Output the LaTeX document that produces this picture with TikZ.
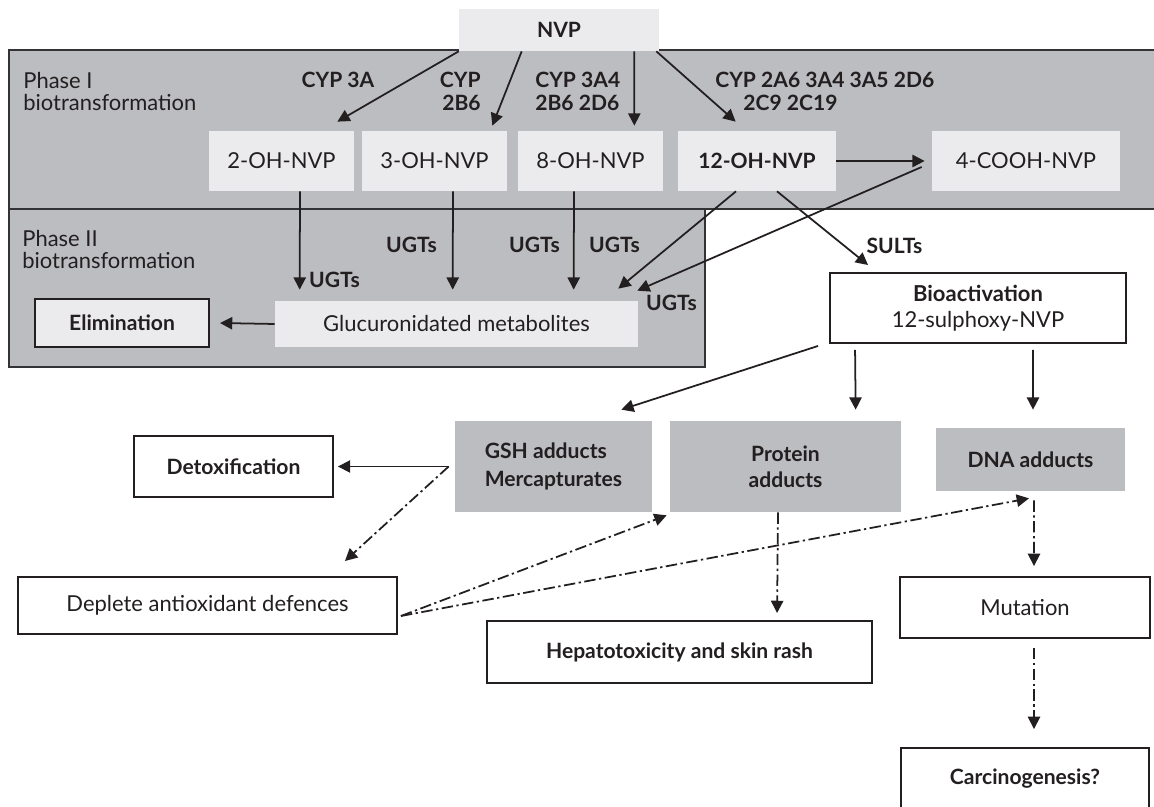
\documentclass[tikz,border=0pt]{standalone}
\usepackage{fontspec}
\setmainfont{Lato}
\usetikzlibrary{arrows.meta,calc}

\definecolor{phasegray}{HTML}{BCBDC0}
\definecolor{boxgray}{HTML}{EBEBED}
\definecolor{ink}{HTML}{231F20}
\definecolor{rulegray}{HTML}{333335}

\tikzstyle{phase}=[fill=phasegray,draw=rulegray,line width=1.2pt]
\tikzstyle{lightbox}=[fill=boxgray,inner sep=0pt,align=center]
\tikzstyle{whitebox}=[draw=ink,line width=1.1pt,fill=white,inner sep=0pt,align=center]
\tikzstyle{adduct}=[fill=phasegray,inner sep=0pt,align=center]
\tikzstyle{bold}=[font=\fontsize{12}{13}\selectfont\bfseries]
\tikzstyle{enz}=[bold,inner sep=0pt]
\tikzstyle{arr}=[-{Triangle[length=7pt,width=7pt]},line width=1pt,draw=ink]
\tikzstyle{dotarr}=[arr,dash pattern=on 6.5pt off 2pt on 1.3pt off 2pt]

\newcommand{\metabox}[6]{\node[#1,minimum width=#4,minimum height=#5] (#2) at (#3) {#6};}

\begin{document}
\begin{tikzpicture}[x=0.02cm,y=-0.02cm,font=\fontsize{12.5}{13}\selectfont,text=ink]
    \useasboundingbox (0,0) rectangle (1154,807);
    % phase I and phase II areas
    \draw[phase] (9,50) rectangle (1170,209);
    \draw[phase] (9,209) rectangle (705,367);
    \node[anchor=west,align=left,inner sep=0pt] (phaseone) at (23,91.5) {Phase I\\biotransformation};
    \node[anchor=west,align=left,inner sep=0pt] (phasetwo) at (22,249.5) {Phase II\\biotransformation};

    % metabolites
    \metabox{lightbox,bold}{nvp}{559,30}{4cm}{0.84cm}{NVP}
    \metabox{lightbox}{ohtwo}{281.5,161}{2.9cm}{1.2cm}{2-OH-NVP}
    \metabox{lightbox}{ohthree}{434.5,161}{2.9cm}{1.2cm}{3-OH-NVP}
    \metabox{lightbox}{oheight}{590.5,161}{2.9cm}{1.2cm}{8-OH-NVP}
    \metabox{lightbox,bold}{ohtwelve}{757,161}{3.16cm}{1.2cm}{12-OH-NVP}
    \metabox{lightbox}{cooh}{1026,161}{3.76cm}{1.2cm}{4-COOH-NVP}
    \metabox{lightbox}{gluc}{456.5,324}{7.26cm}{0.92cm}{Glucuronidated metabolites}
    \metabox{lightbox,bold,draw=ink,line width=1.1pt}{elim}{122,323}{3.48cm}{0.96cm}{Elimination}
    \metabox{whitebox}{bio}{978,308}{5.92cm}{1.4cm}{\textbf{Bioactivation}\\[2pt]12-sulphoxy-NVP}

    % adducts and outcomes
    \metabox{adduct,bold,align=left}{gsh}{553.5,466.5}{3.94cm}{1.82cm}{GSH adducts\\[3pt]Mercapturates}
    \metabox{adduct,bold}{protein}{785.5,466.5}{4.62cm}{1.82cm}{Protein\\[2pt]adducts}
    \metabox{adduct,bold}{dna}{1030.5,459.5}{3.78cm}{1.26cm}{DNA adducts}
    \metabox{whitebox,bold}{detox}{233.5,466.5}{3.98cm}{1.22cm}{Detoxification}
    \metabox{whitebox}{deplete}{207.5,605.5}{7.58cm}{1.14cm}{Deplete antioxidant defences}
    \metabox{whitebox,bold}{hepato}{679.5,652}{7.7cm}{1.24cm}{Hepatotoxicity and skin rash}
    \metabox{whitebox}{mutation}{1025,607.5}{5cm}{1.22cm}{Mutation}
    \metabox{whitebox,bold}{carc}{1025,779}{4.96cm}{1.24cm}{Carcinogenesis?}

    % enzymes
    \node[enz] (cypa) at (338,80) {CYP 3A};
    \node[enz,anchor=east,align=right] (cypb) at (481,91.5) {CYP\\2B6};
    \node[enz,anchor=west,align=left] (cypc) at (535,91.5) {CYP 3A4\\2B6 2D6};
    \node[enz,anchor=west,align=left] (cypd) at (715,91.5) {CYP 2A6 3A4 3A5 2D6\\\hspace*{0.56cm}2C9 2C19};
    \node[enz] (ugta) at (334.5,280) {UGTs};
    \node[enz] (ugtb) at (411.5,245) {UGTs};
    \node[enz] (ugtc) at (534.5,245) {UGTs};
    \node[enz] (ugtd) at (614.5,245) {UGTs};
    \node[enz] (ugte) at (671.5,303) {UGTs};
    \node[enz] (sult) at (894.5,246) {SULTs};

    % phase I
    \draw[arr] (nvp.south west) -- ($(ohtwo.north east)+(-17,-9)$);
    \draw[arr] ($(nvp.south west)+(63,0)$) -- ($(ohthree.north east)+(-15,-5)$);
    \draw[arr] ($(nvp.south east)+(-25,0)$) -- ($(oheight.north east)+(-29,-5)$);
    \draw[arr] ($(nvp.south east)+(-3,0)$) -- ($(ohtwelve.north west)+(58,-9)$);
    \draw[arr] (ohtwelve.east) -- ($(cooh.west)+(-7,0)$);

    % phase II
    \draw[arr] ($(ohtwo.south)+(18.5,0)$) -- ($(gluc.north west)+(25,-11)$);
    \draw[arr] ($(ohthree.south)+(18.5,0)$) -- ($(gluc.north west)+(178,-11)$);
    \draw[arr] ($(oheight.south)+(-16.5,0)$) -- ($(gluc.north west)+(299,-11)$);
    \draw[arr] ($(ohtwelve.south)+(-21,0)$) -- ($(gluc.north east)+(-20,-12)$);
    \draw[arr] ($(cooh.west)+(-10,6)$) -- ($(gluc.north east)+(-1,-10)$);
    \draw[arr] (gluc.west) -- ($(elim.east)+(10,0)$);
    \draw[arr] ($(ohtwelve.south)+(20,0)$) -- ($(bio.north west)+(39,-7)$);

    % bioactivation
    \draw[arr] ($(bio.south west)+(-11,2)$) -- ($(gsh.north east)+(-31,-11)$);
    \draw[arr] ($(bio.south west)+(26,6)$) -- ($(protein.north west)+(186,-11)$);
    \draw[arr] ($(bio.south)+(55,6)$) -- ($(dna.north)+(2.5,-18)$);
    \coordinate (split) at ($(gsh.west)+(-6,0)$);
    \coordinate (fork) at ($(deplete.east)+(3,10.5)$);
    \draw[arr] (split) -- ($(detox.east)+(4,0)$);
    \draw[dotarr] (split) -- ($(deplete.north east)+(-53,-15)$);
    \draw[dotarr] (fork) -- ($(protein.south west)+(-3,3)$);
    \draw[dotarr] (fork) -- ($(dna.south)+(-1.5,7)$);
    \draw[dotarr] ($(protein.south)+(-7.5,0)$) -- ($(hepato.north west)+(291,-7)$);
    \draw[dotarr] ($(dna.south)+(3.5,9)$) -- ($(mutation.north)+(9,-10)$);
    \draw[dotarr] ($(mutation.south)+(9,9)$) -- ($(carc.north)+(9,-18)$);
\end{tikzpicture}
\end{document}
